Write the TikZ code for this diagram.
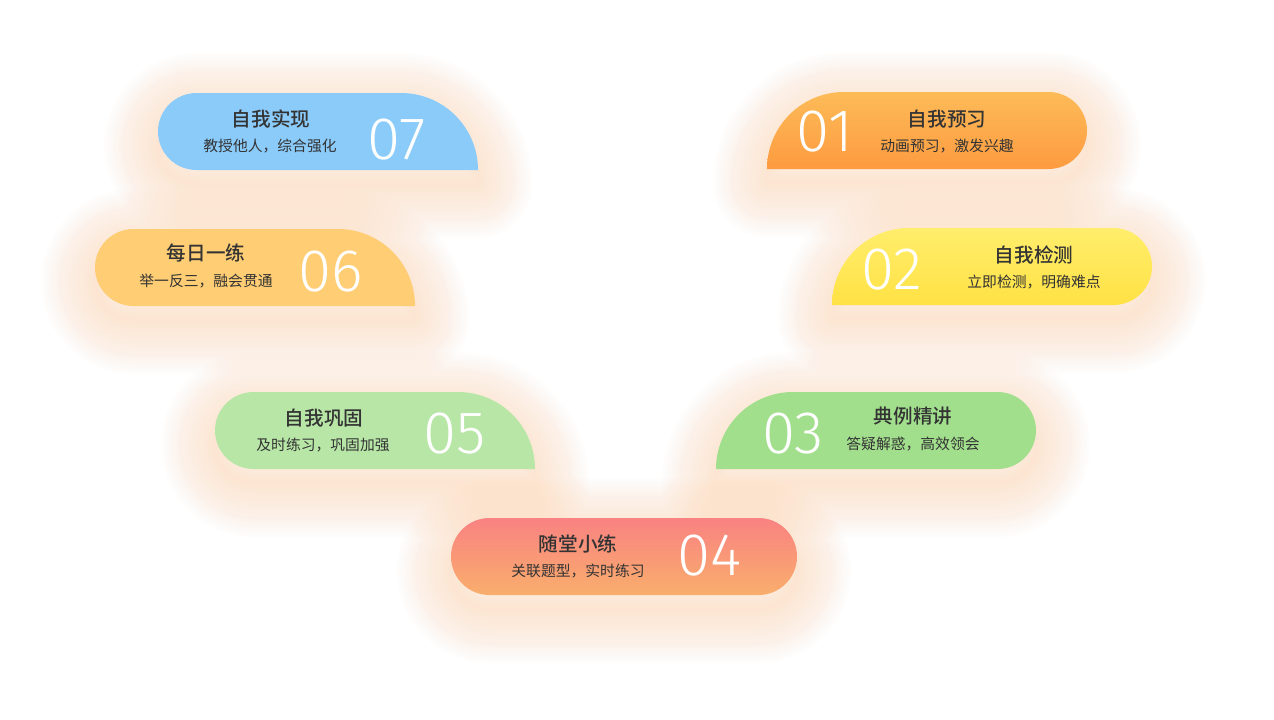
\documentclass[tikz,border=0pt]{standalone}
\usepackage{fontspec}
\newfontfamily\cjk{Noto Sans CJK SC}
\newfontfamily\cjkmed{Noto Sans CJK SC Medium}
\newfontfamily\numfont{Fira Sans Light}
\usepackage{tikz}

\definecolor{txt}{HTML}{333333}
\definecolor{glowc}{RGB}{252,190,130}
\definecolor{blue07}{RGB}{139,203,250}
\definecolor{or01a}{RGB}{253,187,88}
\definecolor{or01b}{RGB}{253,155,64}
\definecolor{yel06}{RGB}{254,205,116}
\definecolor{yel02a}{RGB}{255,238,108}
\definecolor{yel02b}{RGB}{255,225,68}
\definecolor{grn05}{RGB}{184,230,167}
\definecolor{grn03}{RGB}{162,223,141}
\definecolor{red04a}{RGB}{249,130,130}
\definecolor{red04b}{RGB}{249,174,108}

% card outlines, x y = top left corner in px
\newcommand{\tabL}[2]{(#1+38.5,#2) -- (#1+243,#2) arc[start angle=-90,end angle=0,radius=77]
  -- (#1+38.5,#2+77) arc[start angle=90,end angle=270,radius=38.5] -- cycle}
\newcommand{\tabR}[2]{(#1,#2+77) arc[start angle=180,end angle=270,radius=77]
  -- (#1+281.5,#2) arc[start angle=-90,end angle=90,radius=38.5] -- cycle}
\newcommand{\pill}[2]{(#1+38.5,#2) -- (#1+307.5,#2) arc[start angle=-90,end angle=90,radius=38.5]
  -- (#1+38.5,#2+77) arc[start angle=90,end angle=270,radius=38.5] -- cycle}
\newcommand{\glowit}[1]{\foreach \w in {6,12,...,108} {\draw[glowline, line width=\w*0.5pt] #1;}}

\tikzset{
  glowline/.style={draw=glowc, draw opacity=0.018, line join=round, yshift=-7pt},
  cardtitle/.style={font=\cjkmed\fontsize{9.8}{12}\selectfont, text=txt, inner sep=0pt},
  cardsub/.style={font=\cjk\fontsize{7.4}{9}\selectfont, text=txt, inner sep=0pt},
  cardnum/.style={font=\numfont\fontsize{30}{30}\selectfont, text=white, inner sep=0pt},
}

\begin{document}
\begin{tikzpicture}[x=0.5pt,y=-0.5pt]
  \useasboundingbox (0,0) rectangle (1274,719);
  \fill[white] (0,0) rectangle (1274,719);

  % glow
  \glowit{\tabL{158}{93}}
  \glowit{\tabL{95}{229}}
  \glowit{\tabL{215}{392}}
  \glowit{\tabR{767}{92}}
  \glowit{\tabR{832}{228}}
  \glowit{\tabR{716}{392}}
  \glowit{\pill{451}{518}}

  % cards
  \fill[blue07] \tabL{158}{93};
  \fill[yel06] \tabL{95}{229};
  \fill[grn05] \tabL{215}{392};
  \shade[top color=or01a, bottom color=or01b] \tabR{767}{92};
  \shade[top color=yel02a, bottom color=yel02b] \tabR{832}{228};
  \fill[grn03] \tabR{716}{392};
  \shade[top color=red04a, bottom color=red04b] \pill{451}{518};

  % 07
  \node[cardtitle] (t07) at (271,119) {自我实现};
  \node[cardsub] (s07) at (270,146) {教授他人，综合强化};
  \node[cardnum] (n07) at (397,140) {07};
  % 06
  \node[cardtitle] (t06) at (206,253) {每日一练};
  \node[cardsub] (s06) at (206,281) {举一反三，融会贯通};
  \node[cardnum] (n06) at (331,272) {06};
  % 05
  \node[cardtitle] (t05) at (324,418) {自我巩固};
  \node[cardsub] (s05) at (323,445) {及时练习，巩固加强};
  \node[cardnum] (n05) at (455,434) {05};
  % 01
  \node[cardnum] (n01) at (825,132) {01};
  \node[cardtitle] (t01) at (947,119) {自我预习};
  \node[cardsub] (s01) at (947,146) {动画预习，激发兴趣};
  % 02
  \node[cardnum] (n02) at (892,270) {02};
  \node[cardtitle] (t02) at (1034,255) {自我检测};
  \node[cardsub] (s02) at (1034,282) {立即检测，明确难点};
  % 03
  \node[cardnum] (n03) at (793,434) {03};
  \node[cardtitle] (t03) at (913,416) {典例精讲};
  \node[cardsub] (s03) at (913,444) {答疑解惑，高效领会};
  % 04
  \node[cardtitle] (t04) at (578,544) {随堂小练};
  \node[cardsub] (s04) at (578,571) {关联题型，实时练习};
  \node[cardnum] (n04) at (710,556) {04};
\end{tikzpicture}
\end{document}
